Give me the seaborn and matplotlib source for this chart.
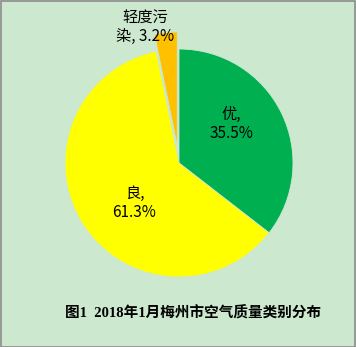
import matplotlib
matplotlib.use("Agg")
import matplotlib.pyplot as plt
import seaborn as sns
from matplotlib.patches import Rectangle

categories = ["优", "良", "轻度污染"]
label_texts = ["优,\n35.5%", "良,\n61.3%", "轻度污\n染, 3.2%"]
values = [35.5, 61.3, 3.2]
colors = ["#00B050", "#FFFF00", "#FFC000"]
explode = [0, 0, 0.15]
title = "图1  2018年1月梅州市空气质量类别分布"

sns.set_style("white")
plt.rcParams['font.family'] = ['Noto Sans CJK SC', 'DejaVu Sans']

W, H = 356, 347
fig = plt.figure(figsize=(W / 100, H / 100), dpi=100)
bg = "#CCE8CF"
fig.patch.set_facecolor(bg)

cx, cy, r = 179, 163, 114
ax = fig.add_axes([(cx - r) / W, (H - cy - r) / H, 2 * r / W, 2 * r / H])
ax.set_facecolor("none")
ax.pie(values, colors=colors, explode=explode, startangle=90, counterclock=False,
       wedgeprops=dict(linewidth=0.6, edgecolor=bg))
ax.set_xlim(-1, 1)
ax.set_ylim(-1, 1)
ax.set_aspect("auto")
ax.axis("off")

label_pos = [(0.456, 0.34), (-0.39, -0.35), (-0.30, 1.19)]
for txt, (x, y) in zip(label_texts, label_pos):
    ax.text(x, y, txt, ha="center", va="center", fontsize=11, color="black",
            linespacing=1.15, clip_on=False)

fig.text(193.5 / W, 1 - 313 / H, title, ha="center", va="center", fontsize=10.5,
         fontweight="bold", color="black",
         family=['Liberation Serif', 'Noto Sans CJK SC'])

fig.patches.append(Rectangle((0.5 / W, 0.5 / H), 1 - 1.5 / W, 1 - 1.5 / H,
                             transform=fig.transFigure, fill=False,
                             edgecolor="#8C8C8C", linewidth=1.2))

fig.savefig("out.png", dpi=100, facecolor=bg)
